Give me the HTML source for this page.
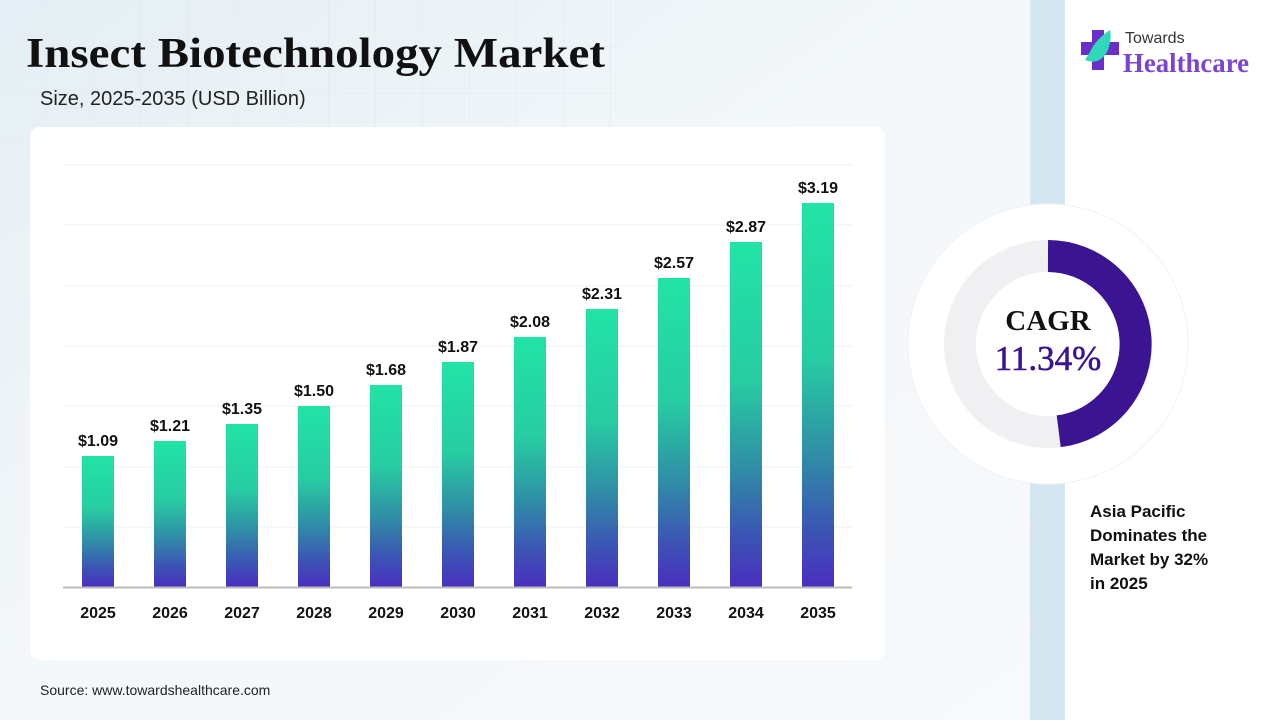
<!DOCTYPE html>
<html><head><meta charset="utf-8"><style>
body{margin:0;width:1280px;height:720px;overflow:hidden;background:#f3f7fa;}
svg{display:block}
</style></head><body>
<svg width="1280" height="720" xmlns="http://www.w3.org/2000/svg" font-family="Liberation Sans, sans-serif">
<defs>
<linearGradient id="bg" x1="0" y1="0" x2="1" y2="1">
<stop offset="0" stop-color="#e4eef4"/><stop offset="0.5" stop-color="#f4f8fa"/><stop offset="1" stop-color="#f7f9fb"/>
</linearGradient>
<linearGradient id="bar" x1="0" y1="0" x2="0" y2="1">
<stop offset="0" stop-color="#22e3a6"/><stop offset="0.4" stop-color="#27cda2"/><stop offset="0.65" stop-color="#2f8fa6"/><stop offset="0.85" stop-color="#3b55b4"/><stop offset="1" stop-color="#4a2fbf"/>
</linearGradient>
<pattern id="grid" width="47" height="47" patternUnits="userSpaceOnUse">
<path d="M47 0V47M0 47H47" stroke="#d7e3ea" stroke-width="1" fill="none"/>
</pattern>
</defs>
<rect width="1030" height="720" fill="url(#bg)"/>
<rect width="620" height="180" fill="url(#grid)" opacity="0.6"/>
<rect x="1030" width="35" height="720" fill="#d4e6ef"/>
<rect x="1065" width="215" height="720" fill="#ffffff"/>
<text x="26" y="67" font-family="Liberation Serif, serif" font-weight="bold" font-size="42" fill="#111" textLength="579" lengthAdjust="spacingAndGlyphs">Insect Biotechnology Market</text>
<text x="40" y="105" font-size="20" fill="#222">Size, 2025-2035 (USD Billion)</text>
<rect x="30" y="127" width="855" height="533" rx="10" fill="#ffffff"/>
<g stroke="#eef0f2" stroke-width="1">
<line x1="63" x2="852" y1="165" y2="165"/><line x1="63" x2="852" y1="225" y2="225"/><line x1="63" x2="852" y1="286" y2="286"/><line x1="63" x2="852" y1="346" y2="346"/><line x1="63" x2="852" y1="406" y2="406"/><line x1="63" x2="852" y1="467" y2="467"/><line x1="63" x2="852" y1="527" y2="527"/>
</g>
<g fill="url(#bar)">
<rect x="82" y="456" width="32" height="131"/>
<rect x="154" y="441" width="32" height="146"/>
<rect x="226" y="424" width="32" height="163"/>
<rect x="298" y="406" width="32" height="181"/>
<rect x="370" y="385" width="32" height="202"/>
<rect x="442" y="362" width="32" height="225"/>
<rect x="514" y="337" width="32" height="250"/>
<rect x="586" y="309" width="32" height="278"/>
<rect x="658" y="278" width="32" height="309"/>
<rect x="730" y="242" width="32" height="345"/>
<rect x="802" y="203" width="32" height="384"/>
</g>
<line x1="63" x2="852" y1="587.5" y2="587.5" stroke="#bbb" stroke-width="2"/>
<g font-weight="bold" font-size="16" fill="#111" text-anchor="middle">
<text x="98" y="446">$1.09</text><text x="170" y="431">$1.21</text><text x="242" y="414">$1.35</text><text x="314" y="396">$1.50</text><text x="386" y="375">$1.68</text><text x="458" y="352">$1.87</text><text x="530" y="327">$2.08</text><text x="602" y="299">$2.31</text><text x="674" y="268">$2.57</text><text x="746" y="232">$2.87</text><text x="818" y="193">$3.19</text>
</g>
<g font-weight="bold" font-size="16" fill="#111" text-anchor="middle">
<text x="98" y="618">2025</text><text x="170" y="618">2026</text><text x="242" y="618">2027</text><text x="314" y="618">2028</text><text x="386" y="618">2029</text><text x="458" y="618">2030</text><text x="530" y="618">2031</text><text x="602" y="618">2032</text><text x="674" y="618">2033</text><text x="746" y="618">2034</text><text x="818" y="618">2035</text>
</g>
<text x="40" y="695" font-size="14" fill="#222">Source: www.towardshealthcare.com</text>
<circle cx="1048" cy="344" r="140" fill="#ffffff" stroke="#eef2f4"/>
<circle cx="1048" cy="344" r="88" fill="none" stroke="#f0f0f2" stroke-width="32"/>
<path d="M1048 256 A88 88 0 0 1 1058.7 431.3" fill="none" stroke="#3b1591" stroke-width="32"/>
<text x="1048" y="330" text-anchor="middle" font-family="Liberation Serif, serif" font-weight="bold" font-size="29" fill="#111">CAGR</text>
<text x="1048" y="370" text-anchor="middle" font-family="Liberation Serif, serif" font-size="35" fill="#3b1591" stroke="#3b1591" stroke-width="0.6">11.34%</text>
<g font-weight="bold" font-size="17" fill="#111">
<text x="1090" y="517">Asia Pacific</text><text x="1090" y="541">Dominates the</text><text x="1090" y="565">Market by 32%</text><text x="1090" y="589">in 2025</text>
</g>
<g>
<rect x="1092" y="30" width="12" height="40" fill="#6a2fc9"/>
<rect x="1081" y="42" width="38" height="13" fill="#6a2fc9"/>
<path d="M1085 60 Q1100 66 1108 50 Q1112 38 1110 30 Q1095 40 1090 52 Z" fill="#2fd8b8"/>
</g>
<text x="1125" y="43" font-size="16" fill="#333">Towards</text>
<text x="1123" y="72" font-family="Liberation Serif, serif" font-weight="bold" font-size="27" fill="#7a45d0" textLength="126" lengthAdjust="spacingAndGlyphs">Healthcare</text>
</svg>
</body></html>
